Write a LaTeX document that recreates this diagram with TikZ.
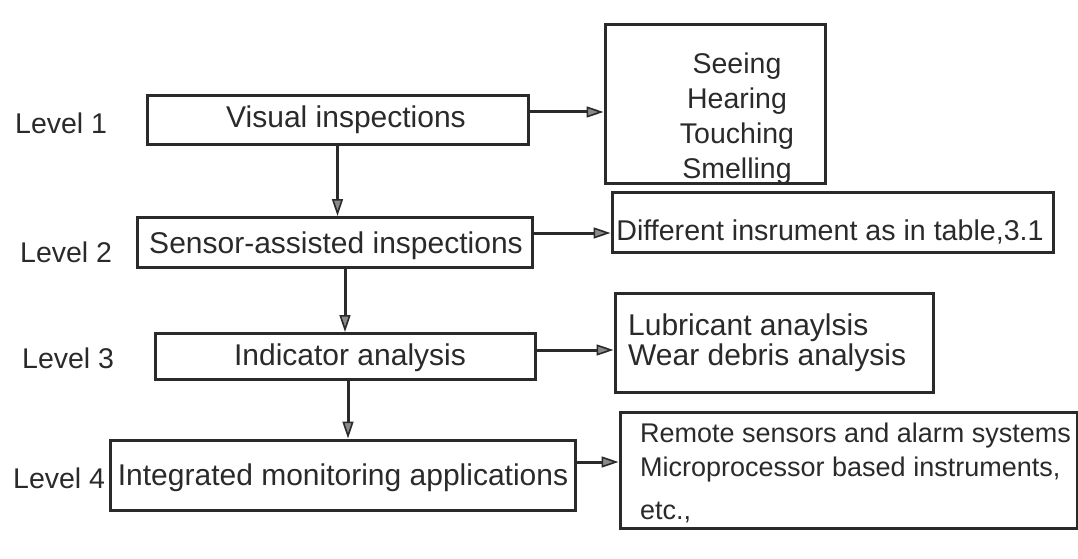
\documentclass[tikz,border=0pt]{standalone}
\usepackage{fontspec}
\setmainfont{Liberation Sans}
\usetikzlibrary{arrows.meta}
\definecolor{ink}{HTML}{2A2A2A}
\tikzset{
  box/.style={draw=ink, line width=3pt, rectangle, inner sep=0pt},
  txt/.style={text=ink, inner sep=0pt, font=\fontsize{30}{36}\selectfont},
  lbl/.style={text=ink, inner sep=0pt, anchor=west, font=\fontsize{28.5}{34}\selectfont},
  arr/.style={draw=ink, line width=3pt, -{Triangle[length=17pt, width=11pt, fill=ink!55, line width=1.6pt]}},
}
\begin{document}
\begin{tikzpicture}[x=1pt,y=-1pt]
\useasboundingbox (0,0) rectangle (1078,559);
% level labels
\node[lbl] (l1) at (15,123) {Level 1};
\node[lbl] (l2) at (20,252) {Level 2};
\node[lbl] (l3) at (22,358) {Level 3};
\node[lbl] (l4) at (13,478) {Level 4};
% left column boxes
\node[box, minimum width=381pt, minimum height=48pt] (vis) at (337.5,120) {};
\node[txt] (vist) at (346,120) {Visual inspections};
\node[box, minimum width=395pt, minimum height=50pt] (sen) at (334.5,242.5) {};
\node[txt] (sent) at (336,246) {Sensor-assisted inspections};
\node[box, minimum width=380pt, minimum height=46pt] (ind) at (345,356.5) {};
\node[txt] (indt) at (350,358) {Indicator analysis};
\node[box, minimum width=465pt, minimum height=70pt] (int) at (342.5,475) {};
\node[txt] (intt) at (343,478) {Integrated monitoring applications};
% right column boxes
\node[box, minimum width=220pt, minimum height=158pt] (sees) at (715,104) {};
\node[txt, align=center, font=\fontsize{28.5}{35}\selectfont] (seest) at (737,118.5) {Seeing\\Hearing\\Touching\\Smelling};
\node[box, minimum width=441pt, minimum height=60pt] (diff) at (832.5,222) {};
\node[txt, font=\fontsize{28.6}{34}\selectfont] (difft) at (830,232) {Different insrument as in table,3.1};
\node[box, minimum width=318pt, minimum height=99pt] (lub) at (774,342.5) {};
\node[txt, align=left, anchor=west, font=\fontsize{30}{30}\selectfont] (lubt) at (628,343) {Lubricant anaylsis\\Wear debris analysis};
\node[box, minimum width=457pt, minimum height=116pt] (rem) at (848.5,470) {};
\node[txt, align=left, anchor=west, font=\fontsize{27}{34}\selectfont] (remt) at (640,473) {Remote sensors and alarm systems\\Microprocessor based instruments,\\[9pt]etc.,};
% connectors
\draw[arr] ([yshift=8pt]vis.east) -- ([yshift=8pt]vis.east -| sees.west);
\draw[arr] (vis.south) -- (vis.south |- sen.north);
\draw[arr] ([yshift=9.5pt]sen.east) -- ([yshift=9.5pt]sen.east -| diff.west);
\draw[arr] (ind.north |- sen.south) -- (ind.north);
\draw[arr] ([yshift=6.5pt]ind.east) -- ([yshift=6.5pt]ind.east -| lub.west);
\draw[arr] ([xshift=3pt]ind.south) -- ([xshift=3pt]ind.south |- int.north);
\draw[arr] ([yshift=13pt]int.east) -- ([yshift=13pt]int.east -| rem.west);
\end{tikzpicture}
\end{document}
